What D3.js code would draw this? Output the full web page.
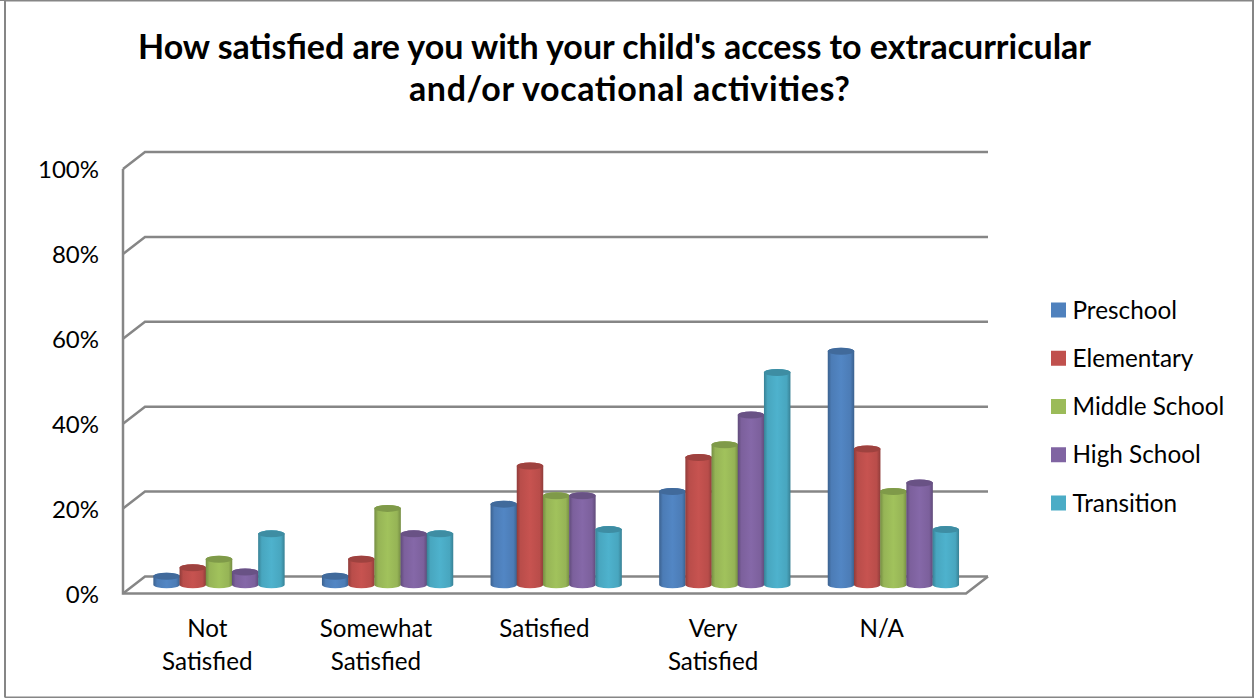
<!DOCTYPE html>
<html><head><meta charset="utf-8">
<script src="https://cdn.jsdelivr.net/npm/d3@7"></script>
<style>html,body{margin:0;padding:0;background:#fff}svg{display:block}text{font-family:Lato,"Open Sans",sans-serif;fill:#000}</style>
</head><body><svg id="c" width="1254" height="698"></svg>
<script>
const categories=[["Not","Satisfied"],["Somewhat","Satisfied"],["Satisfied"],["Very","Satisfied"],["N/A"]];
const seriesNames=["Preschool","Elementary","Middle School","High School","Transition"];
const preschool=[2,2,19,22,55];
const elementary=[4,6,28,30,32];
const middleSchool=[6,18,21,33,22];
const highSchool=[3,12,21,40,24];
const transition=[12,12,13,50,13];
const seriesValues=[preschool,elementary,middleSchool,highSchool,transition];
const colors=["#4f81bd","#c0504d","#9bbb59","#8064a2","#4bacc6"];
const tickValues=[0,20,40,60,80,100];
const titleLines=["How satisfied are you with your child's access to extracurricular","and/or vocational activities?"];

const svg=d3.select("#c");
// frame
svg.append("path").attr("fill","none").attr("stroke","#868686").attr("stroke-width",2)
  .attr("d",d3.line()([[5,697.5],[5,0.5],[1253,0.5],[1253,697.5],[5,697.5]]));
svg.append("path").attr("fill","none").attr("stroke","#868686").attr("stroke-width",1)
  .attr("d",d3.line()([[0,0.5],[1254,0.5]]));

// title
svg.append("g").selectAll("text").data(titleLines).join("text")
 .attr("x",(d,i)=>i?629.5:614.5).attr("y",(d,i)=>59+i*42).attr("text-anchor","middle")
 .attr("font-size",34).attr("font-weight",700)
 .attr("textLength",(d,i)=>i?441:953).attr("lengthAdjust","spacing").text(d=>d);

// scales
const dx=22,dy=-17;
const y=d3.scaleLinear().domain([0,100]).range([593.5,169]);
const yBack=v=>y(v)+dy;
const xFront=d3.scaleBand().domain(d3.range(5)).range([123,966]);
const inner=d3.scaleBand().domain(d3.range(5)).range([0,131]);
const g=svg.append("g").attr("fill","none").attr("stroke","#868686").attr("stroke-width",2.5);
tickValues.forEach(t=>{
  g.append("path").attr("d",d3.line()([[123,y(t)],[123+dx,yBack(t)],[966+dx,yBack(t)]]));
});
g.append("path").attr("d",d3.line()([[123,y(100)],[123,y(0)],[966,y(0)],[966+dx,yBack(0)]]));
tickValues.forEach(t=>{
  svg.append("text").attr("x",99).attr("y",y(t)+9).attr("text-anchor","end").attr("font-size",24).text(t+"%");
});
// bars as cylinders
const defs=svg.append("defs");
colors.forEach((c,i)=>{
  const lg=defs.append("linearGradient").attr("id","cyl"+i);
  const col=d3.color(c);
  [[0,col.darker(.8)],[.14,col.darker(.1)],[.5,col.brighter(.1)],[.86,col.darker(.1)],[1,col.darker(.8)]].forEach(([o,k])=>
    lg.append("stop").attr("offset",o).attr("stop-color",k));
});
const baseY=v=>y(v)+dy/2-0.2;
const bars=svg.append("g");
categories.forEach((cat,ci)=>{
  seriesValues.forEach((vals,si)=>{
    const v=vals[ci];
    const w=inner.bandwidth()+0.3;
    const cx=xFront(ci)+(xFront.bandwidth()+dx)/2-131/2+inner(si)+inner.bandwidth()/2+0.7;
    const rx=w/2,ry=3.5;
    const yb=baseY(0),yt=baseY(v);
    bars.append("path").attr("fill",`url(#cyl${si})`)
      .attr("d",`M${cx-rx},${yt}L${cx-rx},${yb}A${rx},${ry} 0 0 0 ${cx+rx},${yb}L${cx+rx},${yt}A${rx},${ry} 0 0 0 ${cx-rx},${yt}Z`);
    bars.append("ellipse").attr("cx",cx).attr("cy",yt).attr("rx",rx).attr("ry",ry)
      .attr("fill",d3.color(colors[si]).darker(.55));
  });
});
// category labels
categories.forEach((cat,ci)=>{
  const cx=xFront(ci)+xFront.bandwidth()/2;
  cat.forEach((ln,i)=>svg.append("text").attr("x",cx).attr("y",636.5+i*33).attr("text-anchor","middle").attr("font-size",24.2).text(ln));
});
// legend
seriesNames.forEach((n,i)=>{
  const ly=d3.scalePoint().domain(d3.range(5)).range([310,503])(i);
  svg.append("rect").attr("x",1051).attr("y",ly-7.5).attr("width",15).attr("height",15).attr("fill",colors[i]);
  svg.append("text").attr("x",1072.5).attr("y",ly+8.5).attr("font-size",24.3).text(n);
});
</script></body></html>
